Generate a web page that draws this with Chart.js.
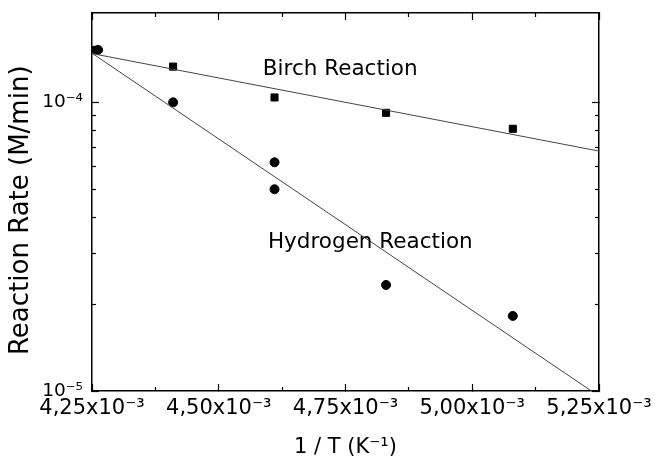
<!DOCTYPE html>
<html>
<head>
<meta charset="utf-8">
<script src="https://cdn.jsdelivr.net/npm/chart.js@4.4.1/dist/chart.umd.min.js"></script>
<style>
  body { margin: 0; background: #fff; }
  #wrap { width: 655px; height: 467px; }
</style>
</head>
<body>
<div id="wrap"><canvas id="myChart"></canvas></div>
<script>
const ctx = document.getElementById('myChart');

// measured points (1/T in K^-1, rate in M/min)
const birchX = [4.256e-3, 4.41e-3, 4.61e-3, 4.83e-3, 5.08e-3];
const birchY = [1.52e-4, 1.33e-4, 1.04e-4, 9.2e-5, 8.1e-5];
const hydroX = [4.262e-3, 4.41e-3, 4.61e-3, 4.61e-3, 4.83e-3, 5.08e-3];
const hydroY = [1.52e-4, 1.0e-4, 6.2e-5, 5.0e-5, 2.33e-5, 1.82e-5];

// fitted lines (end points)
const fitX = [4.25e-3, 5.25e-3];
const birchFit = [1.476e-4, 6.78e-5];
const hydroFit = [1.48e-4, 9.6e-6];

// ticks
const xMajor = [4.25e-3, 4.5e-3, 4.75e-3, 5.0e-3, 5.25e-3];
const xTickLabels = ['4,25x10⁻³', '4,50x10⁻³', '4,75x10⁻³', '5,00x10⁻³', '5,25x10⁻³'];
const xMinor = [4.375e-3, 4.625e-3, 4.875e-3, 5.125e-3];
const yMajor = [1e-5, 1e-4];
const yTickLabels = ['10⁻⁵', '10⁻⁴'];
const yMinor = [2e-5, 3e-5, 4e-5, 5e-5, 6e-5, 7e-5, 8e-5, 9e-5];

// text labels and where they sit (data coords)
const notes = [
  { text: 'Birch Reaction', x: 4.587e-3, y: 1.24e-4 },
  { text: 'Hydrogen Reaction', x: 4.597e-3, y: 3.12e-5 }
];

const pts = (xs, ys) => xs.map((v, i) => ({ x: v, y: ys[i] }));

Chart.defaults.font.family = 'DejaVu Sans';
Chart.defaults.color = '#000';

const notesPlugin = {
  id: 'notes',
  afterDatasetsDraw(chart) {
    const c = chart.ctx;
    const sx = chart.scales.x, sy = chart.scales.y;
    c.save();
    c.font = '21.5px "DejaVu Sans"';
    c.fillStyle = '#000';
    c.textBaseline = 'alphabetic';
    notes.forEach(n => {
      c.fillText(n.text, sx.getPixelForValue(n.x), sy.getPixelForValue(n.y));
    });
    c.restore();
  }
};

// no extra room for overhanging labels, the layout padding handles it
function noPad(s) {
  s.paddingLeft = 0; s.paddingRight = 0; s.paddingTop = 0; s.paddingBottom = 0;
}

// one side of the frame: ticks pointing inwards
function side(type, position, vals, len, opts) {
  const horiz = position === 'top' || position === 'bottom';
  return Object.assign({
    type: type,
    position: position,
    min: type === 'logarithmic' ? 1e-5 : 4.25e-3,
    max: type === 'logarithmic' ? 2.04e-4 : 5.25e-3,
    afterBuildTicks: s => { s.ticks = vals.map(v => ({ value: v })); },
    ticks: { display: false },
    grid: { drawOnChartArea: false, tickLength: len, tickColor: '#000', tickWidth: 1.2 },
    border: { display: false },
    afterFit: s => { noPad(s); if (horiz) s.height = 0; else s.width = 0; }
  }, opts || {});
}

new Chart(ctx, {
  type: 'scatter',
  data: {
    datasets: [
      {
        label: 'Birch fit',
        data: pts(fitX, birchFit),
        showLine: true,
        borderColor: '#444',
        borderWidth: 1,
        pointRadius: 0
      },
      {
        label: 'Hydrogen fit',
        data: pts(fitX, hydroFit),
        showLine: true,
        borderColor: '#444',
        borderWidth: 1,
        pointRadius: 0
      },
      {
        label: 'Birch Reaction',
        data: pts(birchX, birchY),
        pointStyle: 'rect',
        pointRadius: 5,
        backgroundColor: '#000',
        borderColor: '#000',
        borderWidth: 1
      },
      {
        label: 'Hydrogen Reaction',
        data: pts(hydroX, hydroY),
        pointStyle: 'circle',
        pointRadius: 4.5,
        backgroundColor: '#000',
        borderColor: '#000',
        borderWidth: 1
      }
    ]
  },
  options: {
    responsive: true,
    maintainAspectRatio: false,
    animation: false,
    layout: { padding: { top: 13, right: 56, left: 0, bottom: 0 } },
    plugins: { legend: { display: false }, tooltip: { enabled: false } },
    scales: {
      x: side('linear', 'bottom', xMajor, -7, {
        weight: 0,
        ticks: {
          display: true, autoSkip: false, maxRotation: 0, padding: 12,
          font: { size: 21 },
          callback: (v, i) => xTickLabels[i]
        },
        border: { display: true, color: '#000', width: 1.5 },
        title: { display: true, text: '1 / T (K⁻¹)', font: { size: 21 }, padding: { top: 0, bottom: 7 } },
        afterFit: s => { noPad(s); s.height = 76; }
      }),
      xMin: side('linear', 'bottom', xMinor, -4, { weight: -1 }),
      xTop: side('linear', 'top', xMajor, -7, { weight: 0, border: { display: true, color: '#000', width: 1.5 } }),
      xTopMin: side('linear', 'top', xMinor, -4, { weight: -1 }),
      y: side('logarithmic', 'left', yMajor, -7, {
        weight: 0,
        ticks: {
          display: true, padding: 16,
          font: { size: 18.5 },
          callback: (v, i) => yTickLabels[i]
        },
        border: { display: true, color: '#000', width: 1.5 },
        // trailing spaces nudge the centred title down a little, as in the original
        title: { display: true, text: 'Reaction Rate (M/min)  ', font: { size: 26 }, padding: { top: 6, bottom: 0 } },
        afterFit: s => { noPad(s); s.width = 92; }
      }),
      yMin: side('logarithmic', 'left', yMinor, -4, { weight: -1 }),
      yRight: side('logarithmic', 'right', yMajor, -7, { weight: 0, border: { display: true, color: '#000', width: 1.5 } }),
      yRightMin: side('logarithmic', 'right', yMinor, -4, { weight: -1 })
    }
  },
  plugins: [notesPlugin]
});
</script>
</body>
</html>
